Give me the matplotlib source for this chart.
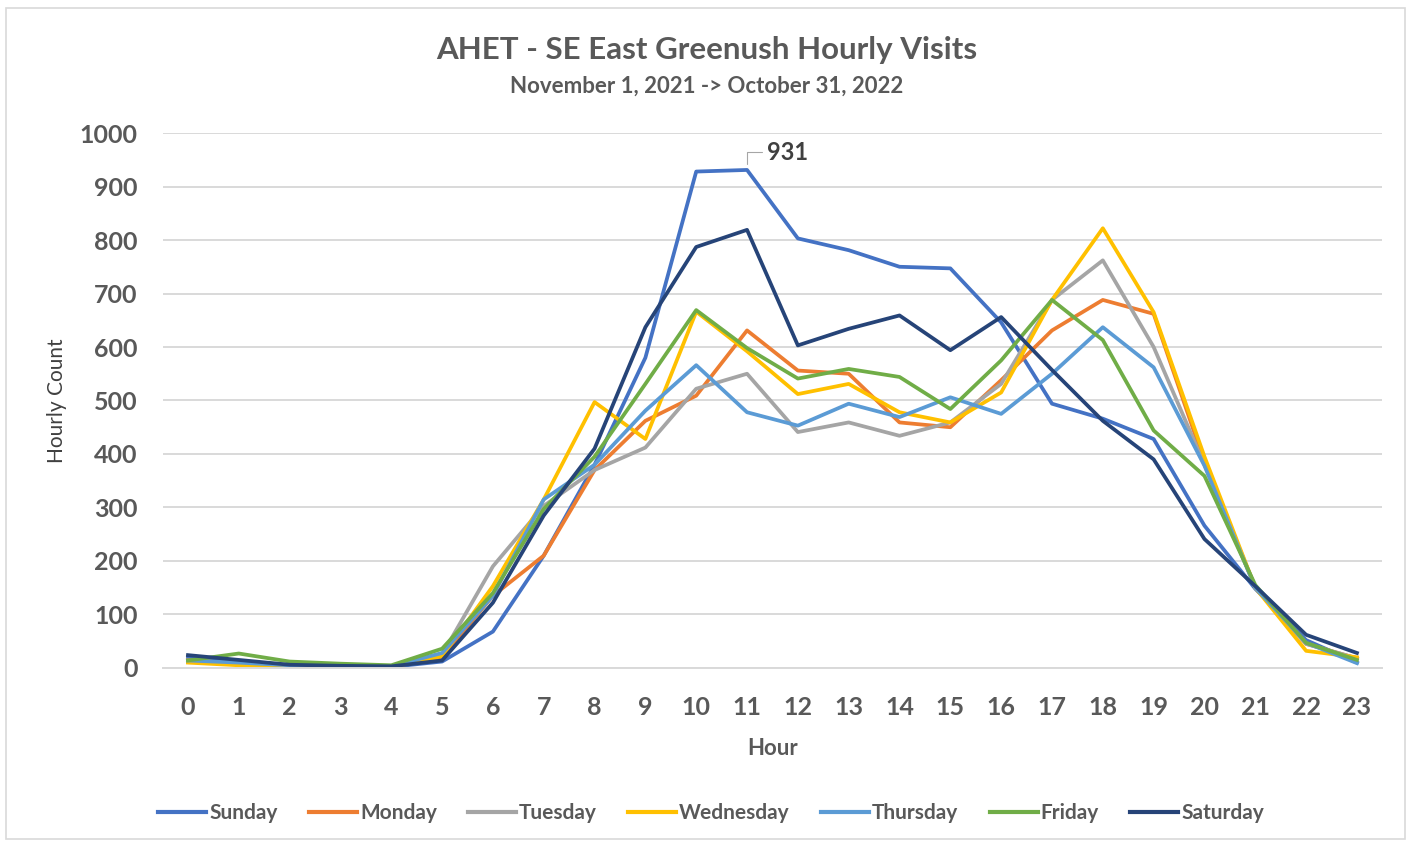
import matplotlib
matplotlib.use('Agg')
import matplotlib.pyplot as plt
from matplotlib.patches import Rectangle

# hourly visit counts
hours = list(range(24))
sunday = [20, 12, 5, 3, 2, 12, 68, 210, 380, 580, 928, 931, 803, 781, 750, 747, 646, 494, 466, 428, 266, 148, 52, 10]
monday = [15, 8, 4, 3, 2, 20, 135, 210, 370, 462, 509, 631, 556, 550, 459, 450, 538, 631, 688, 662, 385, 150, 45, 18]
tuesday = [12, 10, 5, 4, 3, 25, 190, 303, 370, 412, 522, 550, 441, 459, 434, 459, 531, 688, 762, 600, 380, 150, 45, 18]
wednesday = [10, 5, 3, 3, 2, 22, 153, 315, 497, 428, 666, 592, 512, 531, 478, 459, 515, 688, 822, 665, 395, 150, 32, 20]
thursday = [14, 10, 5, 4, 3, 28, 135, 315, 380, 481, 566, 478, 453, 494, 469, 506, 475, 550, 637, 562, 378, 150, 47, 9]
friday = [14, 27, 12, 8, 5, 36, 140, 297, 395, 531, 669, 598, 541, 559, 544, 484, 575, 688, 613, 444, 359, 155, 47, 15]
saturday = [24, 15, 6, 4, 3, 14, 122, 285, 410, 637, 787, 819, 603, 634, 659, 594, 656, 557, 462, 390, 241, 153, 62, 28]

day_names = ['Sunday', 'Monday', 'Tuesday', 'Wednesday', 'Thursday', 'Friday', 'Saturday']
series = [sunday, monday, tuesday, wednesday, thursday, friday, saturday]
colors = ['#4472C4', '#ED7D31', '#A5A5A5', '#FFC000', '#5B9BD5', '#70AD47', '#264478']
yticks = [0, 100, 200, 300, 400, 500, 600, 700, 800, 900, 1000]

plt.rcParams['font.family'] = ['Lato', 'DejaVu Sans']
text_gray = '#595959'

fig = plt.figure(figsize=(14.11, 8.42), dpi=100)
fig.set_facecolor('white')
ax = fig.add_axes([0.1152, 0.2067, 0.8645, 0.6353])

for vals, name, c in zip(series, day_names, colors):
    ax.plot(hours, vals, color=c, linewidth=2.7, label=name, solid_joinstyle='round')

ax.set_xlim(-0.5, 23.5)
ax.set_ylim(0, 1000)
ax.set_xticks(hours)
ax.set_xticklabels([str(h) for h in hours])
ax.set_yticks(yticks)
ax.set_yticklabels([str(v) for v in yticks])
ax.tick_params(axis='both', length=0, labelsize=18, labelcolor=text_gray)
ax.tick_params(axis='x', pad=20)
ax.tick_params(axis='y', pad=18)
for lab in ax.get_xticklabels() + ax.get_yticklabels():
    lab.set_fontweight('bold')

ax.grid(axis='y', color='#D9D9D9', linewidth=1.4)
ax.set_axisbelow(True)
for s in ['left', 'right', 'top']:
    ax.spines[s].set_visible(False)
ax.spines['bottom'].set_color('#D9D9D9')
ax.spines['bottom'].set_linewidth(1.4)

ax.set_xlabel('Hour', fontsize=16, fontweight='bold', color=text_gray, labelpad=14)
ax.set_ylabel('Hourly Count', fontsize=15, color='#404040', labelpad=9)

# data label on the Sunday peak
ax.annotate('931', xy=(11, 931), xytext=(11.4, 964), fontsize=17, fontweight='bold',
            color='#404040', va='center', ha='left',
            arrowprops=dict(arrowstyle='-', color='#A6A6A6', lw=0.8,
                            connectionstyle='angle,angleA=0,angleB=90,rad=0',
                            shrinkA=2, shrinkB=4))

fig.text(0.501, 0.941, 'AHET - SE East Greenush Hourly Visits', ha='center', va='center',
         fontsize=22.5, fontweight='bold', color=text_gray)
fig.text(0.501, 0.898, 'November 1, 2021 -> October 31, 2022', ha='center', va='center',
         fontsize=16, fontweight='bold', color=text_gray)

leg = fig.legend(loc='center', bbox_to_anchor=(0.504, 0.034), ncol=7, frameon=False,
                 fontsize=15, handlelength=2.3, handletextpad=0.15, columnspacing=1.5)
for line in leg.get_lines():
    line.set_linewidth(3)
for t in leg.get_texts():
    t.set_color(text_gray)
    t.set_fontweight('bold')

fig.patches.append(Rectangle((0.004, 0.004), 0.992, 0.987, transform=fig.transFigure,
                             fill=False, edgecolor='#D9D9D9', linewidth=1.2))

plt.savefig('out.png', dpi=100)
